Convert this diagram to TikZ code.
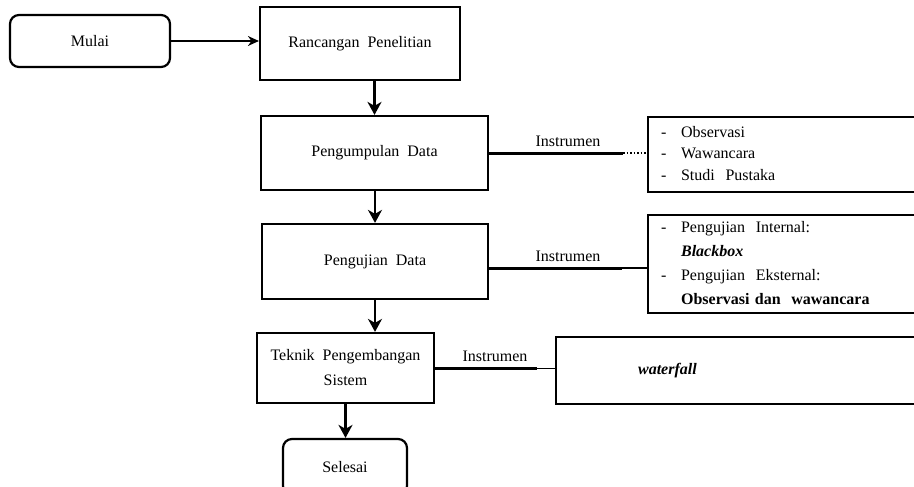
\documentclass[tikz,border=0pt]{standalone}
\usepackage{fontspec}
\setmainfont{Liberation Serif}
\usepackage{tikz}
\usetikzlibrary{arrows.meta}

\begin{document}
\begin{tikzpicture}[x=1pt, y=-1pt, font=\fontsize{16}{20}\selectfont,
    proses/.style = {draw, line width=2.2pt, align=center},
    terminal/.style = {draw, line width=2.2pt, rounded corners=9pt},
    isi/.style = {draw, line width=2.2pt, anchor=west, align=left, inner xsep=13pt, text width=270pt},
    panah/.style = {-{Stealth[length=13pt, width=14pt, inset=4pt]}, line width=2.6pt},
    garis/.style = {line width=3pt},
    lbl/.style = {above=3pt}]
            \useasboundingbox (0,0) rectangle (914,487);
            \node[terminal, minimum width=160pt, minimum height=52pt] (mulai) at (90,41) {Mulai};
            \node[proses, minimum width=200pt, minimum height=73pt] (rancangan) at (360,43.5) {Rancangan~~Penelitian};
            \node[proses, minimum width=227pt, minimum height=74pt] (kumpul) at (374.5,153) {Pengumpulan~~Data};
            \node[proses, minimum width=226pt, minimum height=75pt] (uji) at (375,261.5) {Pengujian~~Data};
            \node[proses, minimum width=177pt, minimum height=70pt] (teknik) at (345.5,368) {Teknik~~Pengembangan\\[5pt]Sistem};
            \node[terminal, minimum width=124pt, minimum height=56pt] (selesai) at (345,467) {Selesai};
            \node[isi, minimum height=75pt] (obs) at (647,154.5) {\begin{tabular}{@{}p{20pt}@{}l@{}}
                - & Observasi\\[1.5pt]
                - & Wawancara\\[1.5pt]
                - & Studi~~Pustaka
            \end{tabular}};
            \node[isi, minimum height=96pt] (ujiisi) at (647,264) {\begin{tabular}{@{}p{20pt}@{}l@{}}
                - & Pengujian~~Internal:\\[4pt]
                  & \textbf{\textit{Blackbox}}\\[4pt]
                - & Pengujian~~Eksternal:\\[4pt]
                  & \textbf{Observasi dan~~wawancara}
            \end{tabular}};
            \node[isi, minimum height=67pt, inner xsep=82pt] (wf) at (555,370.5) {\textbf{\textit{waterfall}}};
            \coordinate (k1) at (623,153);
            \coordinate (k2) at (622,268);
            \coordinate (k3) at (537,368);
            % alur utama
            \draw[-{Stealth[length=11pt, width=10pt]}, line width=1.3pt] (mulai.east) -- (mulai.east -| rancangan.west);
            \draw[panah] (rancangan.south -| kumpul.north) -- (kumpul.north);
            \draw[panah] (kumpul.south -| uji.north) -- (uji.north);
            \draw[panah] (uji.south) -- (uji.south |- teknik.north);
            \draw[panah] (teknik.south) -- (teknik.south |- selesai.north);
            % instrumen
            \draw[garis] (kumpul.east) -- (k1);
            \draw[dotted, line width=1.5pt] (k1) -- (k1 -| obs.west);
            \path (kumpul.east) -- node[lbl] {Instrumen} (kumpul.east -| obs.west);
            \draw[garis] (k2 -| uji.east) -- (k2);
            \draw[line width=1.2pt] (k2) -- (k2 -| ujiisi.west);
            \path (k2 -| uji.east) -- node[lbl] {Instrumen} (k2 -| ujiisi.west);
            \draw[garis] (teknik.east) -- (k3);
            \draw[line width=0.8pt] (k3) -- (k3 -| wf.west);
            \path (teknik.east) -- node[lbl] {Instrumen} (k3 -| wf.west);
        \end{tikzpicture}
\end{document}
